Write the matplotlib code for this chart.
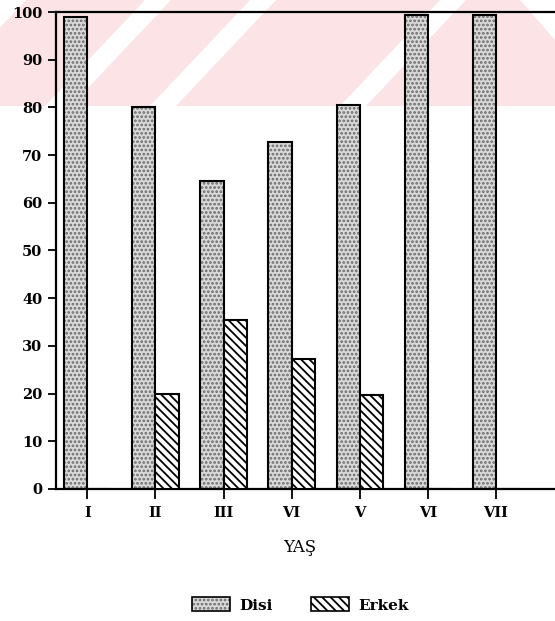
import matplotlib
matplotlib.use("Agg")
import matplotlib.pyplot as plt
import numpy as np
from matplotlib.patches import Patch, Polygon, Rectangle

ages = ["I", "II", "III", "VI", "V", "VI", "VII"]
disi = [99, 80, 64.5, 72.7, 80.4, 99.3, 99.4]
erkek = [0, 20, 35.5, 27.3, 19.8, 0, 0]

W, H = 555, 621
bar_w = 0.34

plt.rcParams["hatch.linewidth"] = 1.3

fig = plt.figure(figsize=(W / 100, H / 100), dpi=100)

# scanned watermark band at the top (pink with white diagonal stripes)
pink = "#fbe3e6"
fig.patches.append(Rectangle((0, 1 - 106 / H), 1, 106 / H, transform=fig.transFigure,
                             facecolor=pink, edgecolor="none", zorder=-5))
for x_top in [0, 145, 250, 440]:
    pts = [(x_top, 0), (x_top + 26, 0), (x_top + 26 - 100, 106), (x_top - 100, 106)]
    pts = [(px / W, 1 - py / H) for px, py in pts]
    fig.patches.append(Polygon(pts, closed=True, transform=fig.transFigure,
                               facecolor="white", edgecolor="none", zorder=-4))
right_pts = [(520, 0), (555, 0), (555, 40)]
fig.patches.append(Polygon([(px / W, 1 - py / H) for px, py in right_pts], closed=True,
                           transform=fig.transFigure, facecolor="white",
                           edgecolor="none", zorder=-4))

ax = fig.add_axes([56 / W, 1 - 489 / H, 499 / W + 0.01, (489 - 12) / H])
ax.patch.set_alpha(0)

x = np.arange(len(ages))

# stippled fill for Disi, then black outline on top
ax.bar(x, disi, width=-bar_w, align="edge", facecolor="#d9d9d9",
       edgecolor="#6a6a6a", hatch="....", linewidth=0, zorder=2)
ax.bar(x, disi, width=-bar_w, align="edge", fill=False,
       edgecolor="black", linewidth=1.5, zorder=3)
ax.bar(x, erkek, width=bar_w, align="edge", facecolor="white",
       edgecolor="black", hatch="\\\\\\\\", linewidth=1.5, zorder=3)

ax.set_xlim(-0.46, 6.95)
ax.set_ylim(0, 100)
ax.set_yticks(np.arange(0, 101, 10))
ax.set_xticks(x)
ax.set_xticklabels(ages)

for sp in ["left", "bottom", "top"]:
    ax.spines[sp].set_linewidth(1.6)
ax.spines["right"].set_visible(False)

tick_font = dict(family="DejaVu Serif", weight="bold", size=10.5)
for lab in ax.get_xticklabels() + ax.get_yticklabels():
    lab.set_fontfamily(tick_font["family"])
    lab.set_fontweight(tick_font["weight"])
    lab.set_fontsize(tick_font["size"])
ax.tick_params(axis="y", length=6, width=1.3, pad=4)
ax.tick_params(axis="x", length=7, width=1.3, pad=5)

fig.text(300 / W, 1 - 548 / H, "YAŞ", ha="center", va="center",
         family="DejaVu Serif", fontsize=12)

h_disi = (Patch(facecolor="#d9d9d9", edgecolor="#6a6a6a", hatch="....", linewidth=0),
          Patch(fill=False, edgecolor="black", linewidth=1.2))
h_erkek = Patch(facecolor="white", edgecolor="black", hatch="\\\\\\\\", linewidth=1.2)
fig.legend([h_disi, h_erkek], ["Disi", "Erkek"], loc="center",
           bbox_to_anchor=(300 / W, 1 - 605 / H), ncol=2, frameon=False,
           handlelength=2.5, handleheight=1.0, handletextpad=0.6,
           columnspacing=2.5, prop=dict(family="DejaVu Serif", weight="bold", size=11))

fig.savefig("out.png", dpi=100)
